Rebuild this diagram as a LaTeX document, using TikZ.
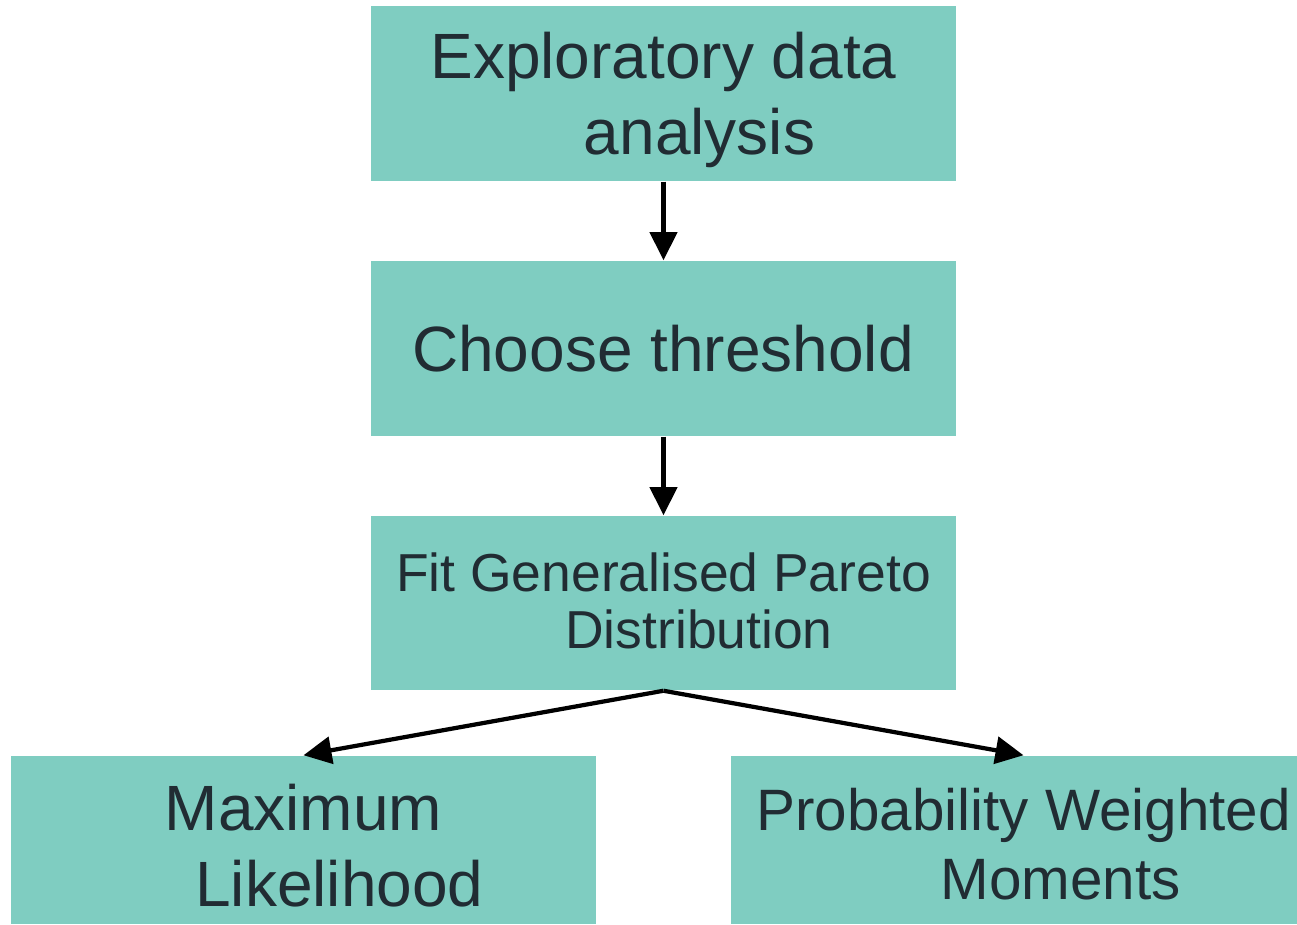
\documentclass[tikz,border=0pt]{standalone}
\usepackage{fontspec}
\setmainfont{Liberation Sans}
\usetikzlibrary{arrows.meta}
\definecolor{boxfill}{RGB}{127,205,193}
\definecolor{boxtext}{RGB}{33,44,51}
\tikzset{
  stepbox/.style={fill=boxfill, draw=none, inner sep=0pt, minimum width=5.85cm},
  lbl/.style={text=boxtext, inner sep=0pt, anchor=base},
  big/.style={lbl, font=\fontsize{18.2}{21}\selectfont},
  mid/.style={lbl, font=\fontsize{16.6}{19}\selectfont},
  small/.style={lbl, font=\fontsize{15.2}{18}\selectfont},
  link/.style={-{Triangle[length=0.28cm,width=0.27cm]}, line width=1.2pt, black}
}
\begin{document}
\begin{tikzpicture}[x=0.01cm,y=-0.01cm]
\useasboundingbox (0,0) rectangle (1297,925);

% boxes
\node[stepbox, minimum height=1.75cm] (eda) at (663.5,93.5) {};
\node[stepbox, minimum height=1.75cm] (thr) at (663.5,348.5) {};
\node[stepbox, minimum height=1.74cm] (gpd) at (663.5,603) {};
\node[stepbox, minimum height=1.68cm] (ml) at (303.5,840) {};
\node[stepbox, minimum width=5.66cm, minimum height=1.68cm] (pwm) at (1014,840) {};

% labels
\node[big] (edaA) at (663.5,79) {Exploratory data};
\node[big] (edaB) at (699.5,155) {analysis};
\node[big] (thrA) at (663,372) {Choose threshold};
\node[small] (gpdA) at (663.5,592) {Fit Generalised Pareto};
\node[small] (gpdB) at (699,649) {Distribution};
\node[big] (mlA) at (303.5,830) {Maximum};
\node[big] (mlB) at (339.5,906) {Likelihood};
\node[mid] (pwmA) at (1023.5,830) {Probability Weighted};
\node[mid] (pwmB) at (1060.5,899) {Moments};

% connectors
\draw[link] (eda.south) -- (thr.north);
\draw[link] (thr.south) -- (gpd.north);
\draw[link] (gpd.south) -- (ml.north);
\draw[link] (gpd.south) -- (pwm.north -| pwmA);
\end{tikzpicture}
\end{document}
